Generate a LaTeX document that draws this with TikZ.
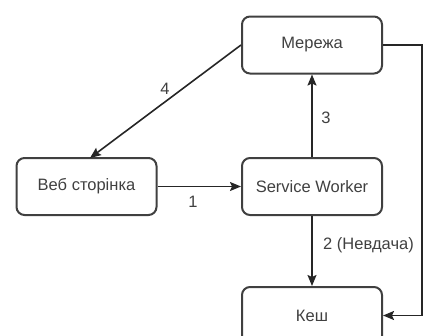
\documentclass[tikz,border=0pt]{standalone}
\usepackage{fontspec}
\setmainfont{Liberation Sans}
\usetikzlibrary{arrows.meta}
\begin{document}
\begin{tikzpicture}[x=1pt,y=-1pt,
  box/.style={draw=black!75,line width=2pt,rounded corners=8pt,minimum width=140pt,minimum height=57pt,inner sep=0pt,text=black!75,font=\fontsize{16.5}{19}\selectfont},
  conn/.style={draw=black!85,line width=1.6pt,-{Stealth[length=11pt,width=9pt,inset=2pt]}},
  lbl/.style={font=\fontsize{16.5}{19}\selectfont,text=black!75,inner sep=0pt}]
\useasboundingbox (0,0) rectangle (428,335);
\node[box] (net) at (312,45) {Мережа};
\node[box] (web) at (86.5,186.5) {Веб сторінка};
\node[box] (sw) at (312,186.5) {Service Worker};
\node[box] (cache) at (312,315.5) {Кеш};
\coordinate (webtop) at (90,158);
\coordinate (c1) at (422,45);
\coordinate (c2) at (422,315.5);
\draw[conn] (web) -- (sw);
\draw[conn] (sw) -- (net);
\draw[conn] (net.west) -- (webtop);
\draw[conn] (sw) -- (cache);
\draw[conn] (net.east) -- (c1) -- (c2) -- (cache.east);
\node[lbl] (l1) at (193,202) {1};
\node[lbl] (l3) at (326,118) {3};
\node[lbl] (l4) at (165,89) {4};
\node[lbl] (l2) at (368.5,245) {2 (Невдача)};
\end{tikzpicture}
\end{document}
